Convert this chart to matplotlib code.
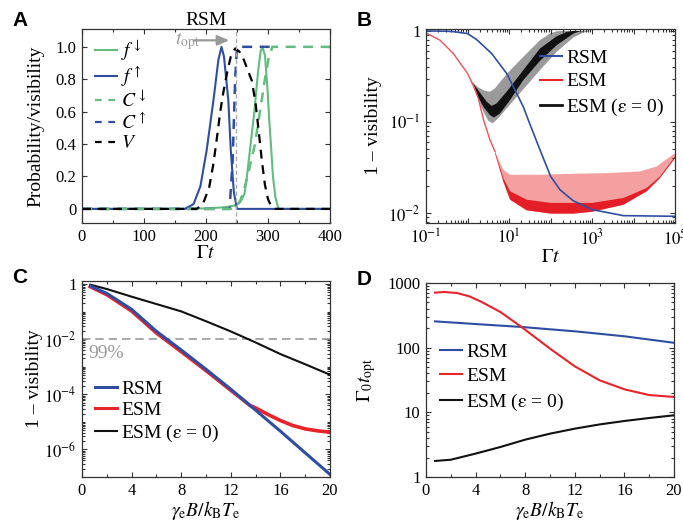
import numpy as np
import matplotlib
matplotlib.use('Agg')
import matplotlib.pyplot as plt
from matplotlib.ticker import FixedLocator, MultipleLocator, LogLocator, NullFormatter, FixedFormatter
from matplotlib.lines import Line2D

plt.rcParams['font.family'] = ['Liberation Serif', 'DejaVu Serif']
plt.rcParams['mathtext.fontset'] = 'stix'
plt.rcParams['xtick.direction'] = 'in'
plt.rcParams['ytick.direction'] = 'in'
plt.rcParams['xtick.top'] = True
plt.rcParams['ytick.right'] = True
plt.rcParams['xtick.major.size'] = 3.5
plt.rcParams['ytick.major.size'] = 3.5
plt.rcParams['xtick.minor.size'] = 2
plt.rcParams['ytick.minor.size'] = 2
plt.rcParams['axes.linewidth'] = 0.9
plt.rcParams['axes.edgecolor'] = '#333333'

# ---------------- data: panel A ----------------
tA_fdown = [0, 160, 200, 230, 245, 255, 262, 266, 272, 278, 284, 288, 291, 295, 299, 302, 305, 308, 312, 317, 400]
fdown = [0, 0, 0.003, 0.01, 0.02, 0.04, 0.09, 0.2, 0.4, 0.6, 0.85, 0.97, 1.0, 0.95, 0.75, 0.55, 0.38, 0.2, 0.07, 0, 0]
tA_fup = [0, 150, 166, 180, 191, 201, 212, 220, 225, 229, 236, 240, 245, 250, 400]
fup = [0, 0, 0, 0.03, 0.14, 0.36, 0.67, 0.92, 1.0, 0.94, 0.67, 0.36, 0.1, 0, 0]
tA_cdown = [0, 240, 250, 255, 260, 267, 279, 287, 295, 301, 307, 400]
cdown = [0, 0, 0.02, 0.05, 0.1, 0.2, 0.4, 0.6, 0.8, 0.93, 1.0, 1.0]
tA_cup = [0, 238, 243, 247, 250, 310]
cup = [0, 0, 0.3, 0.8, 1.0, 1.0]
tA_V = [0, 185, 195, 205, 212, 218, 223, 228, 234, 240, 247, 254, 261, 268, 274, 280, 285, 290, 295, 300, 306, 312, 400]
vis = [0, 0, 0.03, 0.13, 0.28, 0.45, 0.6, 0.72, 0.84, 0.94, 0.99, 0.97, 0.92, 0.85, 0.79, 0.65, 0.48, 0.3, 0.15, 0.06, 0.01, 0, 0]
t_opt_A = 248

# ---------------- data: panel B ----------------
gB_rsm = [0.1, 0.315, 0.456, 1.0, 1.66, 3.82, 8.79, 15.3, 22.1, 29.2, 55.8, 101, 169, 355, 1000, 5690, 1e5]
vB_rsm = [1.0, 0.992, 0.983, 0.935, 0.804, 0.565, 0.341, 0.206, 0.147, 0.105, 0.0494, 0.0252, 0.0180, 0.0136, 0.0109, 0.00935, 0.0092]
gB_esm_top = [0.1, 0.217, 0.456, 1.0, 1.38, 1.82, 2.50, 3.48, 4.60, 7.30, 10.6, 55.8, 355, 2255, 14350, 36100, 1e5]
vB_esm_top = [0.951, 0.791, 0.565, 0.341, 0.254, 0.182, 0.101, 0.0635, 0.0473, 0.0298, 0.0263, 0.0263, 0.0270, 0.0274, 0.0286, 0.0324, 0.0454]
gB_esm_mid = [4.60, 7.30, 10.6, 26.7, 101, 1000, 5690, 20750, 43500, 1e5]
vB_esm_mid = [0.0473, 0.0242, 0.0173, 0.0140, 0.0129, 0.0129, 0.0146, 0.0188, 0.0252, 0.0417]
gB_esm_low = [4.60, 7.30, 10.6, 26.7, 101, 355, 1000, 5690, 20750, 43500, 1e5]
vB_esm_low = [0.0454, 0.0222, 0.0140, 0.0107, 0.00984, 0.00984, 0.0103, 0.0123, 0.0173, 0.0242, 0.0400]
gB_gray_up = [1.15, 1.82, 2.64, 3.48, 4.60, 8.79, 22.1, 55.8, 97.2, 141, 204]
vB_gray_up = [0.288, 0.240, 0.219, 0.215, 0.234, 0.336, 0.519, 0.791, 0.935, 0.99, 1.0]
gB_gray_lo = [1.15, 1.66, 2.41, 3.18, 4.04, 5.53, 8.79, 22.1, 55.8, 141, 355, 618, 895]
vB_gray_lo = [0.288, 0.198, 0.130, 0.103, 0.0967, 0.110, 0.141, 0.228, 0.371, 0.589, 0.845, 0.959, 1.0]
gB_blk_up = [1.38, 2.0, 2.90, 3.82, 5.05, 8.79, 22.1, 55.8, 141, 245, 355]
vB_blk_up = [0.265, 0.210, 0.167, 0.150, 0.160, 0.215, 0.371, 0.641, 0.874, 0.975, 1.0]
gB_blk_lo = [1.66, 2.41, 3.48, 4.35, 6.07, 10.6, 22.1, 55.8, 141, 355, 514, 743]
vB_blk_lo = [0.203, 0.147, 0.119, 0.112, 0.124, 0.174, 0.288, 0.469, 0.697, 0.935, 0.992, 1.0]

# ---------------- data: panel C ----------------
xC_rsm = [0.67, 2, 4, 6, 8, 10, 12, 13.56, 16, 18, 20]
vC_rsm = [0.846, 0.459, 0.121, 0.0193, 0.00406, 8.09e-4, 1.53e-4, 3.91e-5, 4.59e-6, 7.53e-7, 1.24e-7]
xC_esm = [0.67, 2, 4, 6, 8, 10, 12, 13.56, 14, 15, 16, 17, 18, 19, 20]
vC_esm = [0.80, 0.411, 0.105, 0.0168, 0.00353, 7.24e-4, 1.40e-4, 3.91e-5, 3.21e-5, 1.85e-5, 1.12e-5, 7.36e-6, 5.57e-6, 4.72e-6, 4.22e-6]
xC_esm0 = [0.67, 2, 4, 6, 8, 10, 12, 14, 16, 18, 20]
vC_esm0 = [0.946, 0.659, 0.348, 0.188, 0.102, 0.0447, 0.0191, 0.00759, 0.00288, 0.00123, 0.000513]
thr_C = 1e-2

# ---------------- data: panel D ----------------
xD_rsm = [0.73, 4, 7.7, 12, 16, 20]
vD_rsm = [255, 232, 209, 179, 150, 119]
xD_esm = [0.73, 1.5, 2.5, 3.5, 4.5, 6, 7.7, 10, 12, 14, 16, 18, 20]
vD_esm = [709, 726, 700, 622, 508, 356, 209, 96.6, 51.4, 31.3, 22.7, 18.5, 17.3]
xD_esm0 = [0.73, 2, 4, 6, 8, 10, 12, 14, 16, 18, 20]
vD_esm0 = [1.77, 1.85, 2.30, 2.91, 3.78, 4.68, 5.59, 6.5, 7.35, 8.17, 9.0]

labels_model = ['RSM', 'ESM', r'ESM ($\mathrm{\varepsilon}$ = 0)']

# ---------------- colors ----------------
GREEN = '#63bd7f'
BLUE = '#2f4ea3'
RED = '#e8232a'
PINK = '#f5a0a0'
DRED = '#e41e26'
GRAY = '#9a9a9a'
BLK = '#111111'

W, H = 683, 528
fig = plt.figure(figsize=(W / 100, H / 100), dpi=100)

def rect(l, t, r, b):
    return [l / W, 1 - b / H, (r - l) / W, (b - t) / H]

axA = fig.add_axes(rect(82, 29, 330, 223))
axB = fig.add_axes(rect(426, 29, 675, 223))
axC = fig.add_axes(rect(82, 281, 330, 477))
axD = fig.add_axes(rect(426, 283, 674, 477))

TICK = 12
LAB = 14
LEG = 14

for ax in (axA, axB, axC, axD):
    ax.tick_params(which='both', labelsize=TICK, width=0.8, color='#333333', pad=4)

# ---------------- panel A ----------------
dash = (0, (4, 3))
axA.plot(tA_fdown, fdown, color=GREEN, lw=1.5)
axA.plot(tA_fup, fup, color=BLUE, lw=1.5)
axA.plot(tA_cup, cup, color=BLUE, lw=1.8, ls=dash)
axA.plot(tA_cdown, cdown, color=GREEN, lw=1.8, ls=dash)
axA.plot(tA_V, vis, color='black', lw=1.6, ls=dash)
axA.axvline(t_opt_A, color='#aaaaaa', lw=1.0, ls=(0, (3, 2)))
axA.annotate('', xy=(242, 1.04), xytext=(177, 1.04),
             arrowprops=dict(arrowstyle='-|>,head_length=0.7,head_width=0.3', color='#999999', lw=1.6))
axA.text(150, 1.035, r'$t_{\rm opt}$', color='#999999', fontsize=14, va='center', ha='left')
axA.set_xlim(0, 400)
axA.set_ylim(-0.087, 1.11)
axA.xaxis.set_major_locator(MultipleLocator(100))
axA.xaxis.set_minor_locator(MultipleLocator(50))
axA.yaxis.set_major_locator(FixedLocator([0, 0.2, 0.4, 0.6, 0.8, 1.0]))
axA.yaxis.set_major_formatter(FixedFormatter(['0', '0.2', '0.4', '0.6', '0.8', '1.0']))
axA.set_xlabel(r'$\Gamma t$', fontsize=LAB, labelpad=0)
axA.set_ylabel('Probability/visibility', fontsize=LAB, labelpad=8)
axA.set_title('RSM', fontsize=LAB, pad=2)
hA = [Line2D([], [], color=GREEN, lw=1.5),
      Line2D([], [], color=BLUE, lw=1.5),
      Line2D([], [], color=GREEN, lw=1.6, ls=(0, (3, 3))),
      Line2D([], [], color=BLUE, lw=1.6, ls=(0, (3, 3))),
      Line2D([], [], color='black', lw=1.6, ls=(0, (3, 3)))]
lA = [r'$f^{\downarrow}$', r'$f^{\uparrow}$', r'$C^{\downarrow}$', r'$C^{\uparrow}$', r'$V$']
axA.legend(hA, lA, loc='upper left', bbox_to_anchor=(95 / W, 1 - 38 / H), bbox_transform=fig.transFigure,
           frameon=False, fontsize=LEG, handlelength=1.15, handletextpad=0.2, labelspacing=0.08,
           borderpad=0, borderaxespad=0)

# ---------------- panel B ----------------
axB.fill(np.r_[gB_esm_top[8:], gB_esm_low[::-1]], np.r_[vB_esm_top[8:], vB_esm_low[::-1]],
         color=PINK, lw=0)
axB.fill(np.r_[gB_esm_mid, gB_esm_low[::-1]], np.r_[vB_esm_mid, vB_esm_low[::-1]],
         color=DRED, lw=0)
axB.fill(np.r_[gB_gray_up, gB_gray_lo[::-1]], np.r_[vB_gray_up, vB_gray_lo[::-1]],
         color=GRAY, lw=0)
axB.fill(np.r_[gB_blk_up, gB_blk_lo[::-1]], np.r_[vB_blk_up, vB_blk_lo[::-1]],
         color=BLK, lw=0)
axB.plot(gB_esm_top[:9], vB_esm_top[:9], color='#f0505a', lw=1.0)
axB.plot(gB_rsm, vB_rsm, color=BLUE, lw=1.2)
axB.set_xscale('log')
axB.set_yscale('log')
axB.set_xlim(1e-1, 1e5)
axB.set_ylim(10 ** -2.11, 1.05)
axB.xaxis.set_major_locator(FixedLocator([1e-1, 1, 1e1, 1e2, 1e3, 1e4, 1e5]))
axB.xaxis.set_major_formatter(FixedFormatter([r'$10^{-1}$', '', r'$10^{1}$', '', r'$10^{3}$', '', r'$10^{5}$']))
axB.xaxis.set_minor_locator(LogLocator(base=10, subs=np.arange(2, 10), numticks=100))
axB.xaxis.set_minor_formatter(NullFormatter())
axB.yaxis.set_major_locator(FixedLocator([1e-2, 1e-1, 1]))
axB.yaxis.set_major_formatter(FixedFormatter([r'$10^{-2}$', r'$10^{-1}$', '1']))
axB.yaxis.set_minor_locator(LogLocator(base=10, subs=np.arange(2, 10), numticks=100))
axB.yaxis.set_minor_formatter(NullFormatter())
axB.set_xlabel(r'$\Gamma t$', fontsize=LAB, labelpad=0)
axB.set_ylabel('1 – visibility', fontsize=LAB, labelpad=4)
hB = [Line2D([], [], color=BLUE, lw=1.5), Line2D([], [], color=RED, lw=1.5), Line2D([], [], color=BLK, lw=2.0)]
axB.legend(hB, labels_model, loc='upper left', bbox_to_anchor=(540 / W, 1 - 49 / H), bbox_transform=fig.transFigure,
           frameon=False, fontsize=LEG, handlelength=1.15, handletextpad=0.2, labelspacing=0.32,
           borderpad=0, borderaxespad=0)

# ---------------- panel C ----------------
axC.axhline(thr_C, color='#999999', lw=1.2, ls=(0, (5, 3)))
axC.text(0.55, 10 ** -2.22, '99%', color='#999999', fontsize=LEG, va='top', ha='left')
axC.plot(xC_esm0, vC_esm0, color=BLK, lw=1.5)
axC.plot(xC_esm, vC_esm, color=RED, lw=2.6)
axC.plot(xC_rsm, vC_rsm, color=BLUE, lw=2.2)
axC.set_yscale('log')
axC.set_xlim(0, 20)
axC.set_ylim(1e-7, 10 ** 0.11)
axC.xaxis.set_major_locator(MultipleLocator(4))
axC.xaxis.set_minor_locator(MultipleLocator(2))
axC.yaxis.set_major_locator(FixedLocator([1e-6, 1e-4, 1e-2, 1]))
axC.yaxis.set_major_formatter(FixedFormatter([r'$10^{-6}$', r'$10^{-4}$', r'$10^{-2}$', '1']))
axC.yaxis.set_minor_locator(LogLocator(base=10, subs=np.arange(1, 10), numticks=100))
axC.yaxis.set_minor_formatter(NullFormatter())
axC.set_xlabel(r'$\gamma_{\rm e}B/k_{\rm B}T_{\rm e}$', fontsize=LAB, labelpad=0)
axC.set_ylabel('1 – visibility', fontsize=LAB, labelpad=1)
hC = [Line2D([], [], color=BLUE, lw=2.2), Line2D([], [], color=RED, lw=2.2), Line2D([], [], color=BLK, lw=1.5)]
axC.legend(hC, labels_model, loc='upper left', bbox_to_anchor=(95 / W, 1 - 380 / H), bbox_transform=fig.transFigure,
           frameon=False, fontsize=LEG, handlelength=1.15, handletextpad=0.2, labelspacing=0.2,
           borderpad=0, borderaxespad=0)

# ---------------- panel D ----------------
axD.plot(xD_rsm, vD_rsm, color=BLUE, lw=1.5)
axD.plot(xD_esm, vD_esm, color=RED, lw=1.5)
axD.plot(xD_esm0, vD_esm0, color=BLK, lw=1.5)
axD.set_yscale('log')
axD.set_xlim(0, 20)
axD.set_ylim(1, 1000)
axD.xaxis.set_major_locator(MultipleLocator(4))
axD.xaxis.set_minor_locator(MultipleLocator(2))
axD.yaxis.set_major_locator(FixedLocator([1, 10, 100, 1000]))
axD.yaxis.set_major_formatter(FixedFormatter(['1', '10', '100', '1000']))
axD.yaxis.set_minor_locator(LogLocator(base=10, subs=np.arange(2, 10), numticks=100))
axD.yaxis.set_minor_formatter(NullFormatter())
axD.set_xlabel(r'$\gamma_{\rm e}B/k_{\rm B}T_{\rm e}$', fontsize=LAB, labelpad=0)
axD.set_ylabel(r'$\Gamma_0 t_{\rm opt}$', fontsize=LAB, labelpad=7)
hD = [Line2D([], [], color=BLUE, lw=1.5), Line2D([], [], color=RED, lw=1.5), Line2D([], [], color=BLK, lw=1.5)]
axD.legend(hD, labels_model, loc='upper left', bbox_to_anchor=(440 / W, 1 - 343 / H), bbox_transform=fig.transFigure,
           frameon=False, fontsize=LEG, handlelength=1.15, handletextpad=0.2, labelspacing=0.36,
           borderpad=0, borderaxespad=0)

# ---------------- panel letters ----------------
for lab, x, y in [('A', 12, 11), ('B', 357, 11), ('C', 12, 268), ('D', 357, 270)]:
    fig.text(x / W, 1 - y / H, lab, fontsize=15, fontweight='bold', family='Liberation Sans',
             ha='left', va='top')

fig.savefig('out.png', dpi=100)
